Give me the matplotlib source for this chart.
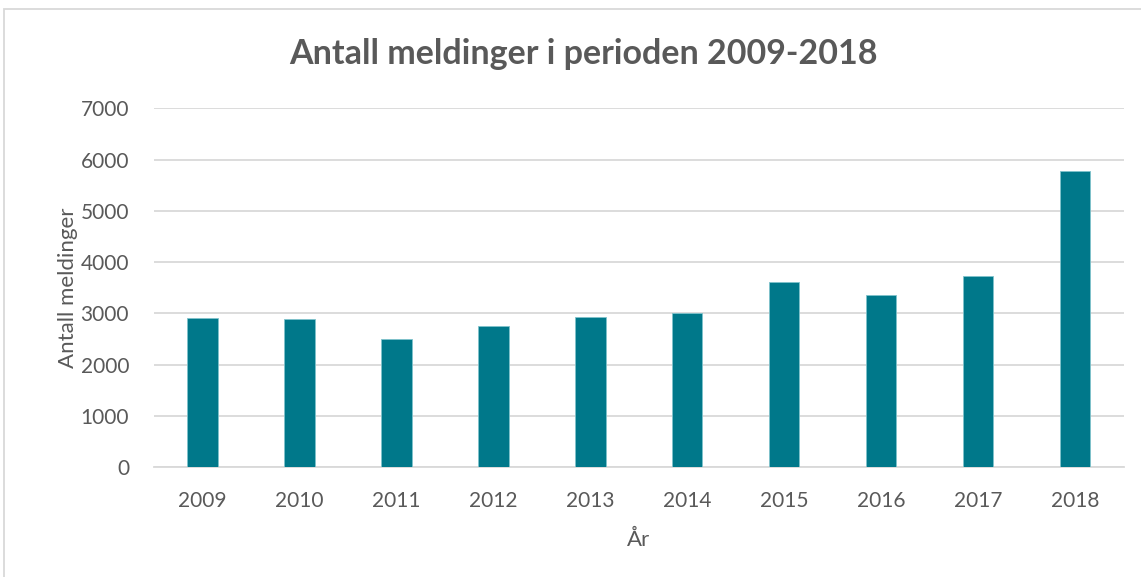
import matplotlib.pyplot as plt
from matplotlib.patches import Rectangle

# data
aar = ["2009", "2010", "2011", "2012", "2013", "2014", "2015", "2016", "2017", "2018"]
meldinger = [2900, 2895, 2490, 2760, 2925, 3005, 3605, 3365, 3720, 5785]
y_ticks = [0, 1000, 2000, 3000, 4000, 5000, 6000, 7000]

plt.rcParams['font.family'] = ['Lato', 'DejaVu Sans']
tekst = "#595959"

fig = plt.figure(figsize=(11.41, 5.77), dpi=100)
ax = fig.add_axes([0.135, 0.1906, 0.850, 0.6217])

# light frame around the chart, like the office chart area
fig.patches.append(Rectangle((4 / 1141, -0.05), 1.2, 1 - 9 / 577 + 0.05,
                             transform=fig.transFigure, fill=False,
                             edgecolor="#D9D9D9", linewidth=1.3))

ax.bar(range(len(aar)), meldinger, width=0.31, color="#00788A",
       edgecolor="#7FC3CC", linewidth=0.6, zorder=3)

ax.set_xlim(-0.5, len(aar) - 0.5)
ax.set_ylim(0, 7000)
ax.set_yticks(y_ticks)
ax.set_yticklabels([str(v) for v in y_ticks])
ax.set_xticks(range(len(aar)))
ax.set_xticklabels(aar)

ax.grid(axis="y", color="#D9D9D9", linewidth=1.3, zorder=0)
for s in ["top", "right", "left"]:
    ax.spines[s].set_visible(False)
ax.spines["bottom"].set_color("#D9D9D9")
ax.spines["bottom"].set_linewidth(1.3)
ax.tick_params(axis="both", length=0, labelsize=15, colors=tekst)
ax.tick_params(axis="x", pad=17)
ax.tick_params(axis="y", pad=18)

fig.text(0.511, 0.907, "Antall meldinger i perioden 2009-2018", fontsize=24.5,
         fontweight="bold", color=tekst, ha="center", va="center")
ax.set_xlabel("År", fontsize=16, color=tekst, labelpad=14)
ax.set_ylabel("Antall meldinger", fontsize=16, color=tekst, labelpad=2)

fig.savefig("out.png", dpi=100)
